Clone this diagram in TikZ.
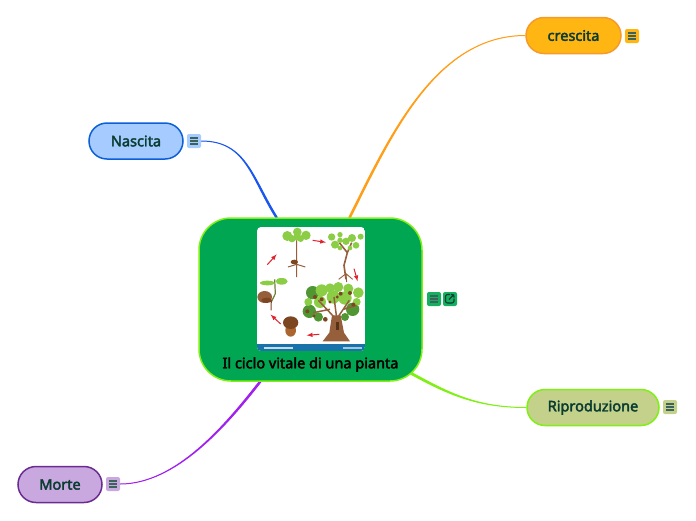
\documentclass[tikz,border=0pt]{standalone}
\usepackage{fontspec}
\setmainfont{Noto Sans}
\newfontfamily\topicfont{Noto Sans}[FakeBold=2.6]
\usetikzlibrary{arrows,shapes,positioning,calc,backgrounds}
\definecolor{inkgreen}{RGB}{10,60,50}
\definecolor{mainfill}{RGB}{0,166,81}
\definecolor{mainicon}{RGB}{20,175,95}
\definecolor{limeline}{RGB}{128,240,20}
\definecolor{nascitaline}{RGB}{11,95,216}
\definecolor{nascitafill}{RGB}{166,203,255}
\definecolor{nascitabranch}{RGB}{26,86,240}
\definecolor{crescitaline}{RGB}{245,154,43}
\definecolor{crescitafill}{RGB}{255,182,18}
\definecolor{crescitabranch}{RGB}{255,158,24}
\definecolor{riproduzionefill}{RGB}{196,209,139}
\definecolor{morteline}{RGB}{106,44,145}
\definecolor{mortefill}{RGB}{201,168,224}
\definecolor{mortebranch}{RGB}{160,32,240}
\definecolor{leafgreen}{RGB}{140,205,70}
\definecolor{leafdark}{RGB}{80,150,50}
\definecolor{barkbrown}{RGB}{150,95,60}
\definecolor{acornbrown}{RGB}{125,70,35}
\definecolor{arrowred}{RGB}{225,35,45}
\definecolor{bandblue}{RGB}{25,115,170}
\tikzset{
  topic/.style={draw=#1,rounded corners=18,line width=1.5pt,minimum height=36,
    font=\fontsize{14.5}{17}\topicfont,text=inkgreen,inner xsep=0pt},
  noteicon/.style={fill=#1,rounded corners=2,minimum size=14,inner sep=0pt,
    path picture={
      \draw[inkgreen!80,line width=1.1pt]
        ($(path picture bounding box.center)+(-4,-3)$) -- ++(8,0)
        ($(path picture bounding box.center)+(-4,0)$) -- ++(8,0)
        ($(path picture bounding box.center)+(-4,3)$) -- ++(8,0);}},
  linkicon/.style={fill=#1,rounded corners=2,minimum size=14,inner sep=0pt,
    path picture={
      \draw[inkgreen,line width=1.1pt]
        ($(path picture bounding box.center)+(0,-4.5)$) -- ++(-4.5,0) -- ++(0,8.5) -- ++(8.5,0) -- ++(0,-4.5)
        ($(path picture bounding box.center)+(-1,0.5)$) -- ++(5,-5)
        ($(path picture bounding box.center)+(1,-4.5)$) -- ++(3,0) -- ++(0,3);}},
  branch/.style={draw=#1,fill=#1,line width=1pt,line join=round},
  twig/.style={draw=arrowred,line width=1pt,-latex},
  leaf/.style={fill=leafgreen},
  crown/.style={fill=leafdark},
  nut/.style={fill=acornbrown}
}
\begin{document}
\begin{tikzpicture}[x=1pt,y=-1pt]
\useasboundingbox (0,0) rectangle (696,520);
% main topic and the four branches
\path (310.5,299.5) node(main)[topic=limeline,fill=mainfill,rounded corners=32,minimum width=223,minimum height=163] {};
\path (136,141) node(nascita)[topic=nascitaline,fill=nascitafill,minimum width=94] {Nascita};
\path (573.5,35.5) node(crescita)[topic=crescitaline,fill=crescitafill,minimum width=95] {crescita};
\path (593,407.5) node(riproduzione)[topic=limeline,fill=riproduzionefill,minimum width=132] {Riproduzione};
\path (60,484.5) node(morte)[topic=morteline,fill=mortefill,minimum width=84] {Morte};
% note icons
\path (194,141) node(nascitanote)[noteicon=nascitafill] {};
\path (632,36) node(crescitanote)[noteicon=crescitafill] {};
\path (670,407) node(riproduzionenote)[noteicon=riproduzionefill] {};
\path (113,484) node(mortenote)[noteicon=mortefill] {};
\path (434,299) node(mainnote)[noteicon=mainicon] {};
\path (450,299) node(mainlink)[linkicon=mainicon] {};
\begin{scope}[on background layer]
\draw[branch=nascitabranch] (nascitanote.east) .. controls +(45,0) and +(-25,-40) .. (main.113.5) -- (main.112.5) .. controls +(-25,-40) and +(45,0) .. (nascitanote.east);
\draw[branch=crescitabranch] (crescita.west) .. controls +(-90,0) and +(40,-80) .. (main.65.5) -- (main.64.5) .. controls +(40,-80) and +(-90,0) .. (crescita.west);
\draw[branch=limeline] (riproduzione.west) .. controls +(-50,0) and +(40,22) .. ($(main.center)!.88!(main.-37.5)$) -- ($(main.center)!.88!(main.-36.5)$) .. controls +(40,22) and +(-50,0) .. (riproduzione.west);
\draw[branch=mortebranch] (mortenote.east) .. controls +(55,0) and +(-35,45) .. (main.239.5) -- (main.238.5) .. controls +(-35,45) and +(55,0) .. (mortenote.east);
\end{scope}
% picture of the life cycle
\begin{scope}[shift={(250,222)},x=0.3333pt,y=-0.3333pt]
\begin{scope}
\clip[rounded corners=4] (21,15) rectangle (345,387);
\fill[white] (21,15) rectangle (345,387);
\fill[bandblue] (21,366) rectangle (345,387);
\fill[white!75!bandblue] (42,374) rectangle (128,381);
\fill[white!60!bandblue] (280,376) rectangle (336,380);
% seedling
\draw[barkbrown,line width=1pt] (140,50) -- (140,165) (114,135) -- (140,127) -- (166,135);
\fill[nut] (133,120) ellipse (11 and 7);
\fill[leaf] (112,42) circle (15) (126,50) circle (11) (142,30) circle (13) (152,50) circle (10) (168,40) circle (14) (140,46) circle (10);
% young tree
\draw[barkbrown,line width=1.6pt] (288,172) -- (282,130) -- (292,92) -- (305,62) (292,92) -- (268,62);
\draw[barkbrown,line width=.9pt] (266,172) -- (288,155) -- (308,172) (288,155) -- (290,180);
\fill[leaf] (245,45) circle (11) (270,38) circle (8) (255,68) circle (12) (270,55) circle (8) (288,58) circle (11) (306,48) circle (12) (332,44) circle (9) (318,70) circle (10) (300,78) circle (7) (270,78) circle (7);
% big tree
\fill[crown] (188,212) circle (20) (178,268) circle (20) (308,262) circle (20) (205,285) circle (14) (285,285) circle (12);
\fill[leaf] (215,205) circle (18) (240,198) circle (14) (265,195) circle (15) (295,200) circle (15) (325,212) circle (16) (210,240) circle (18) (250,225) circle (20) (285,228) circle (20) (320,240) circle (12) (175,240) circle (12);
\fill[barkbrown] (238,332) -- (246,280) -- (272,280) -- (282,332) -- (300,358) -- (218,358) -- cycle;
\draw[barkbrown,line width=1.5pt] (255,288) -- (205,235) (262,288) -- (298,235) (260,288) -- (252,225) (240,262) -- (190,272) (280,262) -- (320,250);
\fill[acornbrown!70!black] (258,300) rectangle (266,325);
\fill[nut] (195,225) circle (6) (215,232) circle (6) (272,215) circle (6) (300,213) circle (6) (310,248) circle (6) (172,268) circle (6) (226,292) circle (7) (240,240) circle (5) (192,282) circle (5) (262,225) circle (5);
% acorn
\fill[barkbrown!80!orange] (122,325) ellipse (16 and 19);
\fill[nut] (122,302) ellipse (23 and 19);
% sprout
\draw[leafdark!60!barkbrown,line width=1.2pt] (74,172) -- (76,215) -- (64,240);
\draw[acornbrown,line width=1pt] (64,235) -- (63,265);
\fill[leaf] (52,183) ellipse (22 and 7) (95,178) ellipse (18 and 10);
\fill[barkbrown] (44,225) ellipse (22 and 18);
\fill[nut] (50,235) ellipse (16 and 8);
% red arrows
\draw[twig] (188,55) -- (228,61);
\draw[twig] (312,140) -- (323,178);
\draw[twig] (208,337) -- (170,340);
\draw[twig] (92,306) -- (62,278);
\draw[twig] (52,128) -- (80,97);
\end{scope}
\end{scope}
\path (310.5,364.5) node(maintitle)[font=\fontsize{14.5}{17}\topicfont,text=black] {Il ciclo vitale di una pianta};
\end{tikzpicture}
\end{document}
